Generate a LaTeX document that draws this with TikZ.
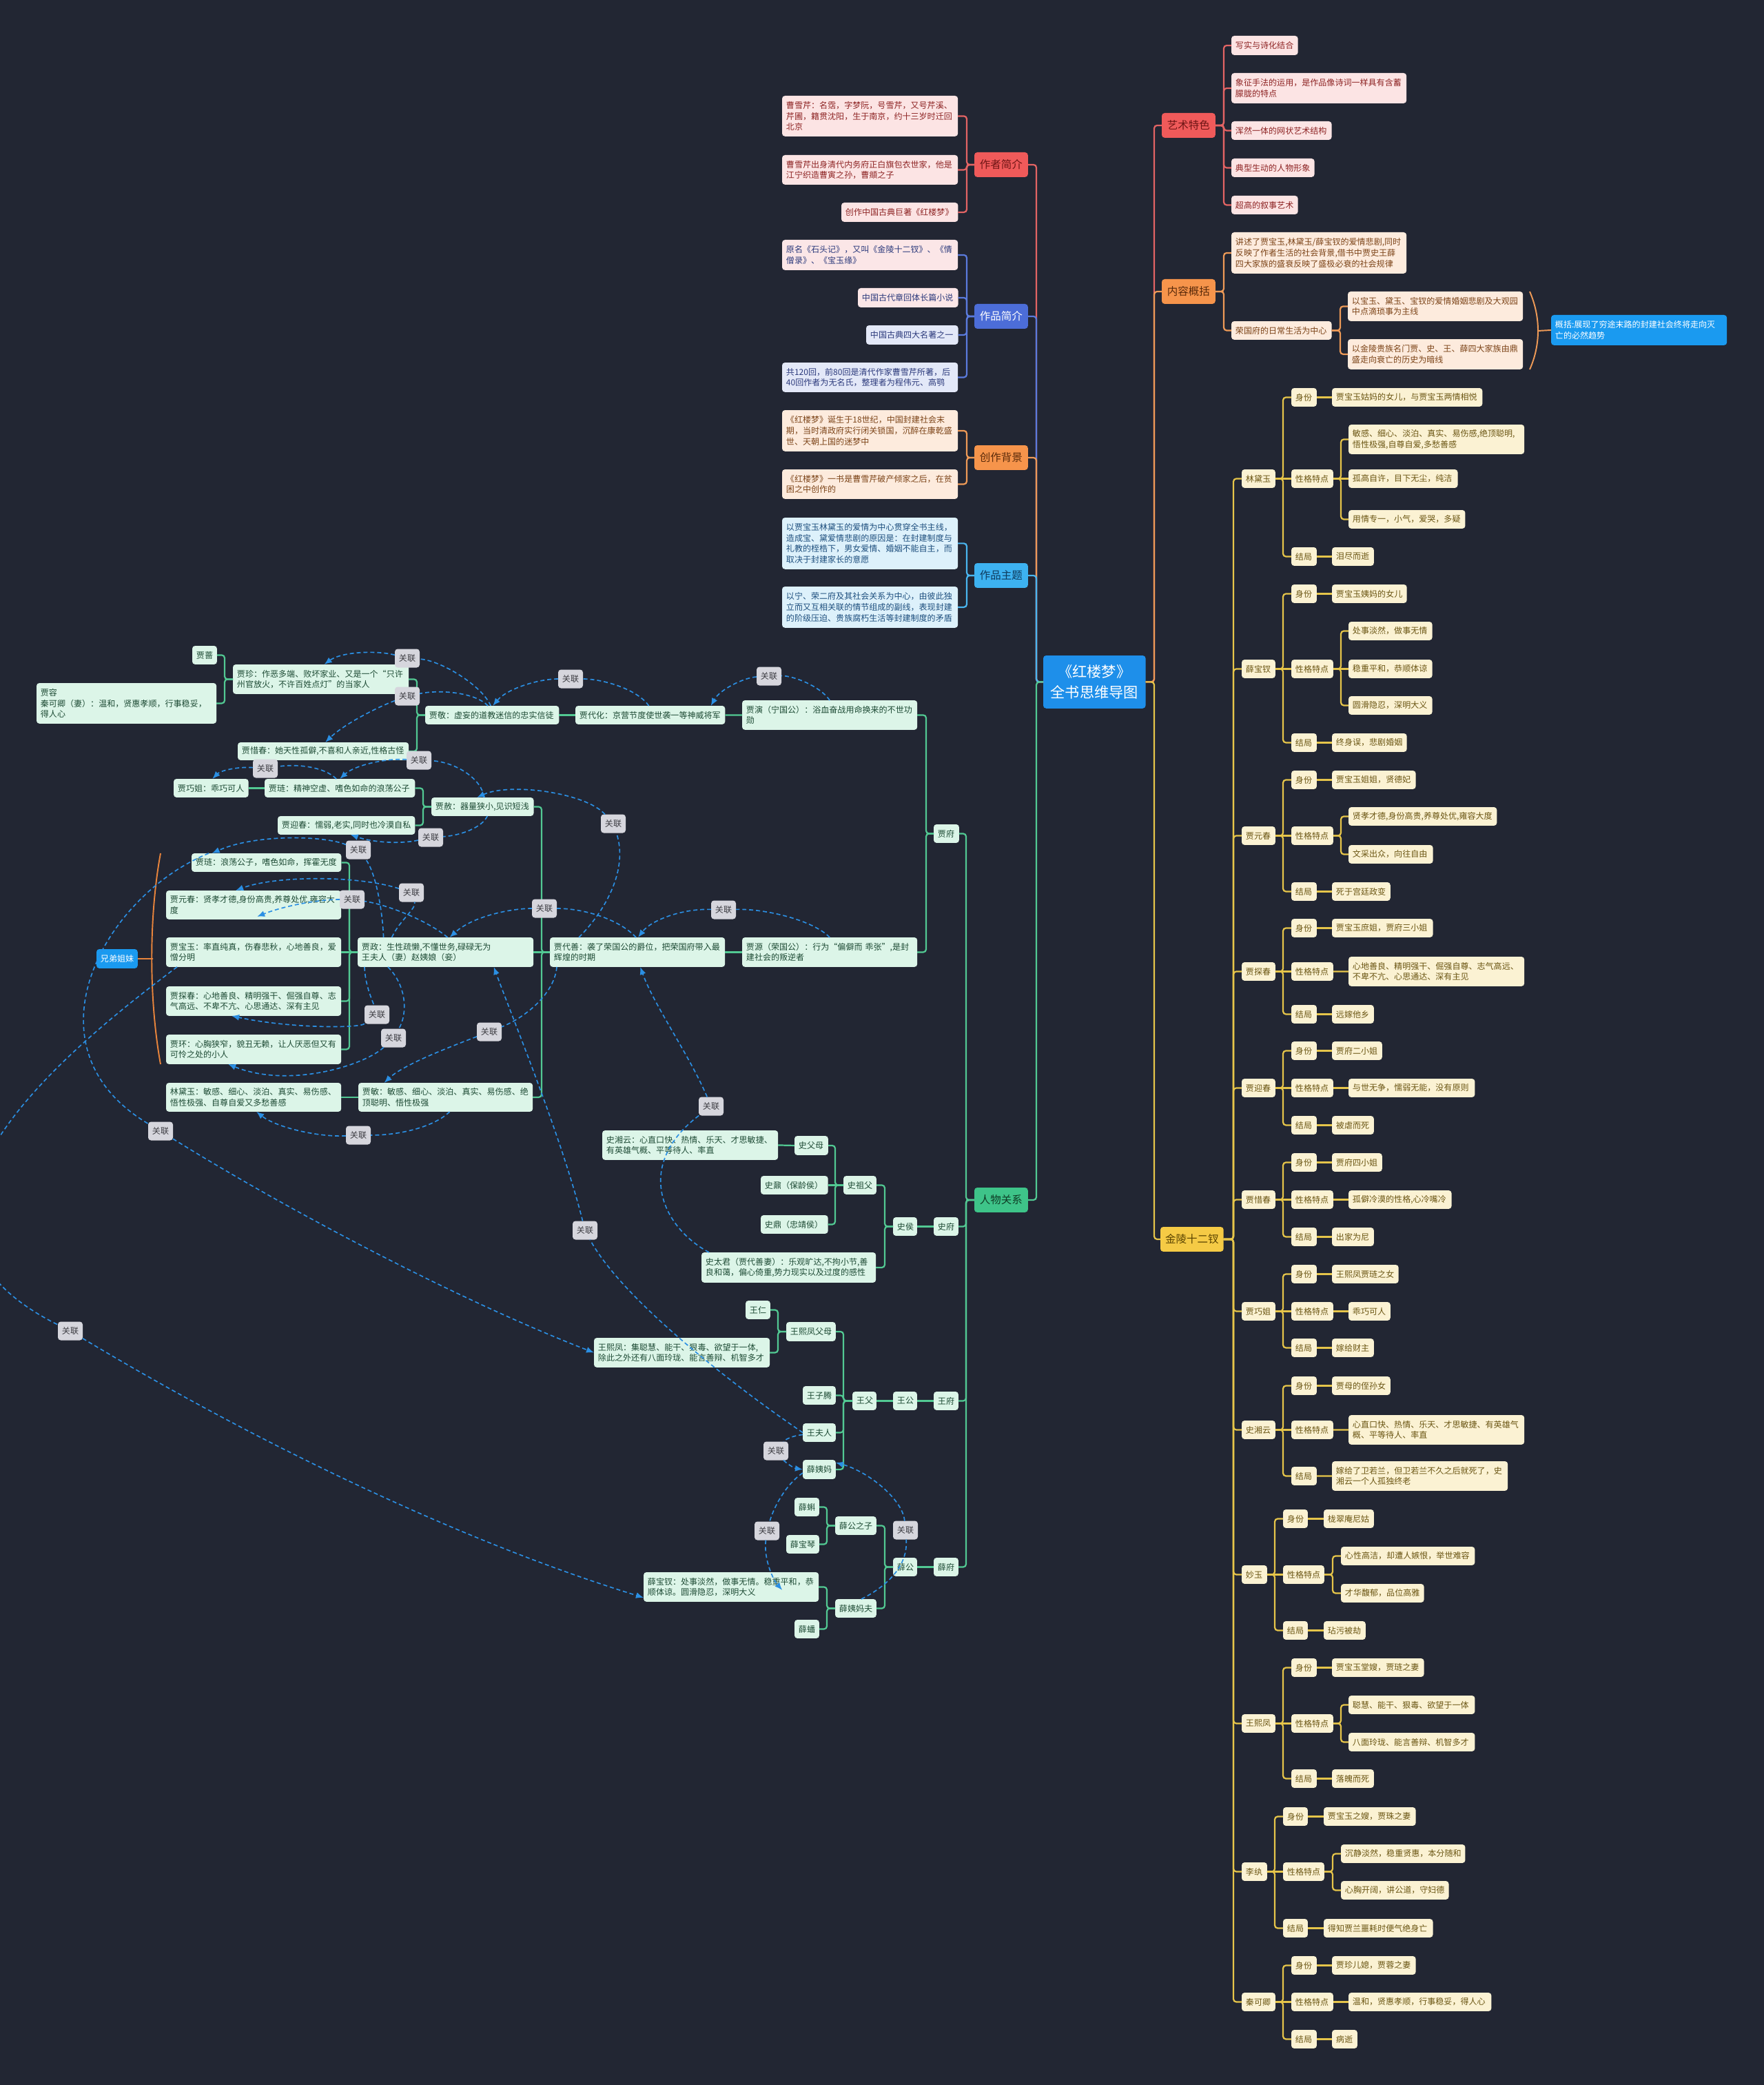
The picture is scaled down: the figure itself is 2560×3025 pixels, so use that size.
\documentclass[tikz,border=0pt]{standalone}
\usepackage{fontspec}
\setmainfont{Noto Sans CJK SC}
\usetikzlibrary{calc,arrows.meta}
\newdimen\pxu \pxu=0.72pt
\newdimen\bxpad \bxpad=4.3pt
\definecolor{bg}{HTML}{222633}
\definecolor{ctblue}{HTML}{1E8FEA}
\definecolor{mred}{HTML}{F05A5A}
\definecolor{mredt}{HTML}{6E1515}
\definecolor{lred}{HTML}{E36464}
\definecolor{fred}{HTML}{FCE4E4}
\definecolor{tred}{HTML}{8E2424}
\definecolor{mblue}{HTML}{4C6DD8}
\definecolor{lblue}{HTML}{5B7BDD}
\definecolor{fblue}{HTML}{E3E8F8}
\definecolor{fpink}{HTML}{FBE6E7}
\definecolor{tblue}{HTML}{2C3A7C}
\definecolor{morange}{HTML}{F6944B}
\definecolor{morat}{HTML}{5A2A0A}
\definecolor{lorange}{HTML}{EE9A57}
\definecolor{forange}{HTML}{FDEBDD}
\definecolor{torange}{HTML}{7C4418}
\definecolor{mcyan}{HTML}{3DB2F1}
\definecolor{mcyant}{HTML}{0E3A5C}
\definecolor{lcyan}{HTML}{4AB6F0}
\definecolor{fcyan}{HTML}{DDF1FB}
\definecolor{tcyan}{HTML}{1E4F7E}
\definecolor{mgreen}{HTML}{3EC489}
\definecolor{mgreent}{HTML}{0F3D26}
\definecolor{lgreen}{HTML}{52C993}
\definecolor{fgreen}{HTML}{DCF5E8}
\definecolor{tgreen}{HTML}{1E4B35}
\definecolor{myellow}{HTML}{F5CA45}
\definecolor{myellowt}{HTML}{5A4300}
\definecolor{lyellow}{HTML}{E6C54A}
\definecolor{fyellow}{HTML}{FBF2D3}
\definecolor{tyellow}{HTML}{6B5614}
\definecolor{relc}{HTML}{2B8FE3}
\definecolor{relf}{HTML}{D6D6DD}
\definecolor{relt}{HTML}{3A3A40}
\definecolor{bracec}{HTML}{E8843C}
\definecolor{gkblue}{HTML}{1A9AF0}

\tikzset{
 bx/.style={rounded corners=3pt, inner xsep=\bxpad, inner ysep=0pt, outer sep=0pt, align=left, font=\fontsize{8.7pt}{11.3pt}\selectfont},
 mainbx/.style={bx, align=center, font=\fontsize{11.2pt}{13pt}\selectfont},
 Lred/.style={bx, fill=fred, text=tred},
 Lpink/.style={bx, fill=fpink, text=tblue},
 Lblue/.style={bx, fill=fblue, text=tblue},
 Lor/.style={bx, fill=forange, text=torange},
 Lcy/.style={bx, fill=fcyan, text=tcyan},
 Lgr/.style={bx, fill=fgreen, text=tgreen},
 Lye/.style={bx, fill=fyellow, text=tyellow},
 Gk/.style={bx, fill=gkblue, text=white},
 Xd/.style={bx, fill=gkblue, text=white},
 Mred/.style={mainbx, fill=mred, text=mredt},
 Mblue/.style={mainbx, fill=mblue, text=white},
 Morange/.style={mainbx, fill=morange, text=morat},
 Mcyan/.style={mainbx, fill=mcyan, text=mcyant},
 Mgreen/.style={mainbx, fill=mgreen, text=mgreent},
 Myellow/.style={mainbx, fill=myellow, text=myellowt},
 Center/.style={bx, align=center, fill=ctblue, text=white, font=\fontsize{15.3pt}{21pt}\selectfont},
 tline/.style={line width=1.6pt, rounded corners=3pt},
 relline/.style={draw=relc, line width=1.2pt, dash pattern=on 4.3pt off 2.9pt},
 relarrow/.style={relline, -{Latex[length=8pt,width=6.5pt]}},
 rlab/.style={rounded corners=3pt, fill=relf, text=relt, inner xsep=\bxpad, inner ysep=0pt, outer sep=0pt, minimum height=19.5pt, font=\fontsize{8.7pt}{11.3pt}\selectfont},
}

\newcommand\mbx[7]{%
 \edef\bxw{\the\dimexpr\pxu*(#5-#3)-2\bxpad\relax}%
 \edef\bxh{\the\dimexpr\pxu*(#6-#4)\relax}%
 \node[#2,anchor=north west,text width=\bxw,minimum height=\bxh] (#1) at (#3,#4) {#7};}

\newcommand\treeR[4]{%
 \coordinate (tmpb) at (#3,0);%
 \foreach \ch in {#4}{%
   \pgfpointanchor{#2}{east}\pgfgetlastxy{\tpx}{\tpy}%
   \pgfpointanchor{\ch}{west}\pgfgetlastxy{\tcx}{\tcy}%
   \pgfmathparse{abs((\tpy)-(\tcy))<1?1:0}%
   \ifdim\pgfmathresult pt>0.5pt
     \draw[tline,#1] (#2.east) -- (\ch.west);%
   \else
     \draw[tline,#1] (#2.east) -- (#2.east -| tmpb) -- (\ch.west -| tmpb) -- (\ch.west);%
   \fi}}
\newcommand\treeL[4]{%
 \coordinate (tmpb) at (#3,0);%
 \foreach \ch in {#4}{%
   \pgfpointanchor{#2}{west}\pgfgetlastxy{\tpx}{\tpy}%
   \pgfpointanchor{\ch}{east}\pgfgetlastxy{\tcx}{\tcy}%
   \pgfmathparse{abs((\tpy)-(\tcy))<1?1:0}%
   \ifdim\pgfmathresult pt>0.5pt
     \draw[tline,#1] (#2.west) -- (\ch.east);%
   \else
     \draw[tline,#1] (#2.west) -- (#2.west -| tmpb) -- (\ch.east -| tmpb) -- (\ch.east);%
   \fi}}
\newcommand\pconn[4]{%
 \treeR{draw=lyellow}{#1}{#2}{#1a,#1b,#1c}%
 \treeR{draw=lyellow}{#1a}{#3}{#1al}%
 \treeR{draw=lyellow}{#1b}{#3}{#4}%
 \treeR{draw=lyellow}{#1c}{#3}{#1cl}}
\newcommand\relcurve[7]{%
 \draw[relline] #1 .. controls #2 and #3 .. (#4);%
 \draw[relarrow] (#4) .. controls #5 and #6 .. #7;}

\begin{document}
\begin{tikzpicture}[x=0.01in,y=-0.01in]
\useasboundingbox (0,0) rectangle (2560,3025);
\fill[bg] (0,0) rectangle (2560,3025);
\clip (0,0) rectangle (2560,3025);

% ---------- center and main branches
\mbx{ct}{Center}{1514}{951}{1663}{1028}{《红楼梦》\\全书思维导图}
\mbx{zz}{Mred}{1414}{221}{1492}{257}{作者简介}
\mbx{zp}{Mblue}{1414}{441}{1492}{477}{作品简介}
\mbx{cb}{Morange}{1414}{646}{1492}{682}{创作背景}
\mbx{zt}{Mcyan}{1414}{817}{1492}{853}{作品主题}
\mbx{rgx}{Mgreen}{1414}{1723}{1492}{1759}{人物关系}
\mbx{ys}{Mred}{1686}{164}{1764}{200}{艺术特色}
\mbx{nr}{Morange}{1686}{405}{1764}{441}{内容概括}
\mbx{jl}{Myellow}{1684}{1780}{1776}{1816}{金陵十二钗}

% ---------- left top leaves
\mbx{a1}{Lred}{1135}{139}{1391}{198}{曹雪芹：名霑，字梦阮，号雪芹，又号芹溪、\\芹圃，籍贯沈阳，生于南京，约十三岁时迁回\\北京}
\mbx{a2}{Lred}{1135}{225}{1391}{268}{曹雪芹出身清代内务府正白旗包衣世家，他是\\江宁织造曹寅之孙，曹頫之子}
\mbx{a3}{Lred}{1221}{294}{1391}{322}{创作中国古典巨著《红楼梦》}
\mbx{b1}{Lpink}{1135}{348}{1391}{392}{原名《石头记》，又叫《金陵十二钗》、《情\\僧录》、《宝玉缘》}
\mbx{b2}{Lpink}{1245}{418}{1391}{446}{中国古代章回体长篇小说}
\mbx{b3}{Lblue}{1257}{472}{1391}{500}{中国古典四大名著之一}
\mbx{b4}{Lblue}{1135}{526}{1391}{569}{共120回，前80回是清代作家曹雪芹所著，后\\40回作者为无名氏，整理者为程伟元、高鹗}
\mbx{c1}{Lor}{1135}{595}{1391}{655}{《红楼梦》诞生于18世纪，中国封建社会末\\期，当时清政府实行闭关锁国，沉醉在康乾盛\\世、天朝上国的迷梦中}
\mbx{c2}{Lor}{1135}{681}{1391}{724}{《红楼梦》一书是曹雪芹破产倾家之后，在贫\\困之中创作的}
\mbx{d1}{Lcy}{1135}{751}{1391}{826}{以贾宝玉林黛玉的爱情为中心贯穿全书主线，\\造成宝、黛爱情悲剧的原因是：在封建制度与\\礼教的桎梏下，男女爱情、婚姻不能自主，而\\取决于封建家长的意愿}
\mbx{d2}{Lcy}{1135}{851}{1391}{911}{以宁、荣二府及其社会关系为中心，由彼此独\\立而又互相关联的情节组成的副线，表现封建\\的阶级压迫、贵族腐朽生活等封建制度的矛盾}

% ---------- right top leaves
\mbx{e1}{Lred}{1787}{52}{1884}{80}{写实与诗化结合}
\mbx{e2}{Lred}{1787}{106}{2042}{150}{象征手法的运用，是作品像诗词一样具有含蓄\\朦胧的特点}
\mbx{e3}{Lred}{1787}{176}{1933}{203}{浑然一体的网状艺术结构}
\mbx{e4}{Lred}{1787}{230}{1908}{257}{典型生动的人物形象}
\mbx{e5}{Lred}{1787}{284}{1884}{311}{超高的叙事艺术}
\mbx{f1}{Lor}{1787}{337}{2042}{397}{讲述了贾宝玉,林黛玉/薛宝钗的爱情悲剧,同时\\反映了作者生活的社会背景,借书中贾史王薛\\四大家族的盛衰反映了盛极必衰的社会规律}
\mbx{f2}{Lor}{1787}{466}{1933}{493}{荣国府的日常生活为中心}
\mbx{f2a}{Lor}{1956}{423}{2211}{466}{以宝玉、黛玉、宝钗的爱情婚姻悲剧及大观园\\中点滴琐事为主线}
\mbx{f2b}{Lor}{1956}{492}{2211}{536}{以金陵贵族名门贾、史、王、薛四大家族由鼎\\盛走向衰亡的历史为暗线}
\mbx{gk}{Gk}{2251}{457}{2507}{501}{概括:展现了穷途末路的封建社会终将走向灭\\亡的必然趋势}

% ---------- Jia family
\mbx{jiafu}{Lgr}{1355}{1196}{1392}{1223}{贾府}
\mbx{jiayan}{Lgr}{1077}{1016}{1332}{1059}{贾演（宁国公）：浴血奋战用命换来的不世功\\勋}
\mbx{jiadaihua}{Lgr}{835}{1024}{1053}{1051}{贾代化：京营节度使世袭一等神威将军}
\mbx{jiajing}{Lgr}{617}{1024}{812}{1051}{贾敬：虚妄的道教迷信的忠实信徒}
\mbx{jiazhen}{Lgr}{338}{964}{594}{1007}{贾珍：作恶多端、败坏家业、又是一个“只许\\州官放火，不许百姓点灯”的当家人}
\mbx{jiaqiang}{Lgr}{279}{937}{315}{964}{贾蔷}
\mbx{jiarong}{Lgr}{53}{991}{315}{1050}{贾容\\秦可卿（妻）：温和，贤惠孝顺，行事稳妥，\\得人心}
\mbx{xichun}{Lgr}{345}{1077}{594}{1103}{贾惜春：她天性孤僻,不喜和人亲近,性格古怪}
\mbx{jiayuan}{Lgr}{1077}{1360}{1332}{1403}{贾源（荣国公）：行为“偏僻而~乖张”,是封\\建社会的叛逆者}
\mbx{daishan}{Lgr}{798}{1360}{1053}{1403}{贾代善：袭了荣国公的爵位，把荣国府带入最\\辉煌的时期}
\mbx{jiashe}{Lgr}{626}{1157}{775}{1184}{贾赦：器量狭小,见识短浅}
\mbx{jialian}{Lgr}{384}{1130}{603}{1157}{贾琏：精神空虚、嗜色如命的浪荡公子}
\mbx{qiaojie}{Lgr}{252}{1130}{361}{1157}{贾巧姐：乖巧可人}
\mbx{yingchun}{Lgr}{403}{1184}{603}{1211}{贾迎春：懦弱,老实,同时也冷漠自私}
\mbx{jiazheng}{Lgr}{519}{1360}{775}{1403}{贾政：生性疏懒,不懂世务,碌碌无为\\王夫人（妻）赵姨娘（妾）}
\mbx{jialian2}{Lgr}{278}{1238}{496}{1265}{贾琏：浪荡公子，嗜色如命，挥霍无度}
\mbx{yuanchun}{Lgr}{241}{1292}{496}{1334}{贾元春：贤孝才德,身份高贵,养尊处优,雍容大\\度}
\mbx{baoyu2}{Lgr}{241}{1360}{496}{1403}{贾宝玉：率直纯真，伤春悲秋，心地善良，爱\\憎分明}
\mbx{tanchun2}{Lgr}{241}{1431}{496}{1474}{贾探春：心地善良、精明强干、倔强自尊、志\\气高远、不卑不亢、心思通达、深有主见}
\mbx{jiahuan}{Lgr}{241}{1501}{496}{1544}{贾环：心胸狭窄，貌丑无赖，让人厌恶但又有\\可怜之处的小人}
\mbx{jiamin}{Lgr}{520}{1571}{774}{1613}{贾敏：敏感、细心、淡泊、真实、易伤感、绝\\顶聪明、悟性极强}
\mbx{lindaiyu2}{Lgr}{241}{1571}{496}{1613}{林黛玉：敏感、细心、淡泊、真实、易伤感、\\悟性极强、自尊自爱又多愁善感}
\mbx{xdjm}{Xd}{140}{1377}{200}{1405}{兄弟姐妹}

% ---------- Shi family
\mbx{shifu}{Lgr}{1355}{1766}{1391}{1793}{史府}
\mbx{shihou}{Lgr}{1296}{1766}{1331}{1793}{史侯}
\mbx{shizufu}{Lgr}{1224}{1706}{1272}{1733}{史祖父}
\mbx{shifumu}{Lgr}{1153}{1648}{1202}{1676}{史父母}
\mbx{xiangyun2}{Lgr}{874}{1640}{1130}{1683}{史湘云：心直口快、热情、乐天、才思敏捷、\\有英雄气概、平等待人、率直}
\mbx{shinai}{Lgr}{1104}{1706}{1202}{1733}{史鼐（保龄侯）}
\mbx{shiding}{Lgr}{1104}{1763}{1202}{1790}{史鼎（忠靖侯）}
\mbx{shitaijun}{Lgr}{1018}{1817}{1272}{1861}{史太君（贾代善妻）：乐观旷达,不拘小节,善\\良和蔼，偏心倚重,势力现实以及过度的感性}

% ---------- Wang family
\mbx{wangfu}{Lgr}{1355}{2019}{1391}{2046}{王府}
\mbx{wanggong}{Lgr}{1296}{2019}{1331}{2046}{王公}
\mbx{wangfq}{Lgr}{1237}{2019}{1272}{2046}{王父}
\mbx{wxfpm}{Lgr}{1141}{1918}{1213}{1946}{王熙凤父母}
\mbx{wangren}{Lgr}{1082}{1887}{1118}{1914}{王仁}
\mbx{wangxifeng}{Lgr}{862}{1941}{1118}{1984}{王熙凤：集聪慧、能干、狠毒、欲望于一体,\\除此之外还有八面玲珑、能言善辩、机智多才}
\mbx{wangziteng}{Lgr}{1165}{2011}{1213}{2038}{王子腾}
\mbx{wangfuren}{Lgr}{1165}{2065}{1213}{2092}{王夫人}
\mbx{xueyima}{Lgr}{1165}{2118}{1213}{2146}{薛姨妈}

% ---------- Xue family
\mbx{xuefu}{Lgr}{1355}{2260}{1391}{2287}{薛府}
\mbx{xuegong}{Lgr}{1296}{2260}{1331}{2287}{薛公}
\mbx{xgzz}{Lgr}{1212}{2200}{1272}{2227}{薛公之子}
\mbx{xueke}{Lgr}{1153}{2173}{1189}{2200}{薛蝌}
\mbx{baoqin}{Lgr}{1141}{2227}{1189}{2254}{薛宝琴}
\mbx{xueyimafu}{Lgr}{1212}{2320}{1272}{2347}{薛姨妈夫}
\mbx{baochai2}{Lgr}{934}{2281}{1189}{2324}{薛宝钗：处事淡然，做事无情。稳重平和，恭\\顺体谅。圆滑隐忍，深明大义}
\mbx{xuepan}{Lgr}{1153}{2350}{1189}{2377}{薛蟠}

% ---------- Jinling twelve
\mbx{p1}{Lye}{1802}{681}{1851}{708}{林黛玉}
\mbx{p1a}{Lye}{1874}{563}{1911}{590}{身份}
\mbx{p1al}{Lye}{1933}{563}{2152}{590}{贾宝玉姑妈的女儿，与贾宝玉两情相悦}
\mbx{p1b}{Lye}{1874}{681}{1935}{708}{性格特点}
\mbx{p1b1}{Lye}{1957}{616}{2213}{659}{敏感、细心、淡泊、真实、易伤感,绝顶聪明,\\悟性极强,自尊自爱,多愁善感}
\mbx{p1b2}{Lye}{1957}{681}{2116}{708}{孤高自许，目下无尘，纯洁}
\mbx{p1b3}{Lye}{1957}{740}{2127}{767}{用情专一，小气，爱哭，多疑}
\mbx{p1c}{Lye}{1874}{794}{1911}{821}{结局}
\mbx{p1cl}{Lye}{1933}{794}{1994}{821}{泪尽而逝}

\mbx{p2}{Lye}{1802}{957}{1851}{984}{薛宝钗}
\mbx{p2a}{Lye}{1874}{848}{1911}{875}{身份}
\mbx{p2al}{Lye}{1933}{848}{2042}{875}{贾宝玉姨妈的女儿}
\mbx{p2b}{Lye}{1874}{957}{1935}{984}{性格特点}
\mbx{p2b1}{Lye}{1957}{902}{2079}{929}{处事淡然，做事无情}
\mbx{p2b2}{Lye}{1957}{957}{2079}{984}{稳重平和，恭顺体谅}
\mbx{p2b3}{Lye}{1957}{1010}{2079}{1037}{圆滑隐忍，深明大义}
\mbx{p2c}{Lye}{1874}{1064}{1911}{1091}{结局}
\mbx{p2cl}{Lye}{1933}{1064}{2042}{1091}{终身误，悲剧婚姻}

\mbx{p3}{Lye}{1802}{1199}{1851}{1226}{贾元春}
\mbx{p3a}{Lye}{1874}{1118}{1911}{1145}{身份}
\mbx{p3al}{Lye}{1933}{1118}{2055}{1145}{贾宝玉姐姐，贤德妃}
\mbx{p3b}{Lye}{1874}{1199}{1935}{1226}{性格特点}
\mbx{p3b1}{Lye}{1957}{1171}{2173}{1198}{贤孝才德,身份高贵,养尊处优,雍容大度}
\mbx{p3b2}{Lye}{1957}{1226}{2080}{1253}{文采出众，向往自由}
\mbx{p3c}{Lye}{1874}{1280}{1911}{1307}{结局}
\mbx{p3cl}{Lye}{1933}{1280}{2018}{1307}{死于宫廷政变}

\mbx{p4}{Lye}{1802}{1396}{1851}{1423}{贾探春}
\mbx{p4a}{Lye}{1874}{1333}{1911}{1360}{身份}
\mbx{p4al}{Lye}{1933}{1333}{2080}{1360}{贾宝玉庶姐，贾府三小姐}
\mbx{p4b}{Lye}{1874}{1396}{1935}{1423}{性格特点}
\mbx{p4b1}{Lye}{1957}{1388}{2213}{1431}{心地善良、精明强干、倔强自尊、志气高远、\\不卑不亢、心思通达、深有主见}
\mbx{p4c}{Lye}{1874}{1458}{1911}{1485}{结局}
\mbx{p4cl}{Lye}{1933}{1458}{1994}{1485}{远嫁他乡}

\mbx{p5}{Lye}{1802}{1565}{1851}{1592}{贾迎春}
\mbx{p5a}{Lye}{1874}{1511}{1911}{1538}{身份}
\mbx{p5al}{Lye}{1933}{1511}{2006}{1538}{贾府二小姐}
\mbx{p5b}{Lye}{1874}{1565}{1935}{1592}{性格特点}
\mbx{p5b1}{Lye}{1957}{1565}{2141}{1592}{与世无争，懦弱无能，没有原则}
\mbx{p5c}{Lye}{1874}{1619}{1911}{1646}{结局}
\mbx{p5cl}{Lye}{1933}{1619}{1994}{1646}{被虐而死}

\mbx{p6}{Lye}{1802}{1727}{1851}{1754}{贾惜春}
\mbx{p6a}{Lye}{1874}{1673}{1911}{1700}{身份}
\mbx{p6al}{Lye}{1933}{1673}{2006}{1700}{贾府四小姐}
\mbx{p6b}{Lye}{1874}{1727}{1935}{1754}{性格特点}
\mbx{p6b1}{Lye}{1957}{1727}{2107}{1754}{孤僻冷漠的性格,心冷嘴冷}
\mbx{p6c}{Lye}{1874}{1781}{1911}{1808}{结局}
\mbx{p6cl}{Lye}{1933}{1781}{1994}{1808}{出家为尼}

\mbx{p7}{Lye}{1802}{1889}{1851}{1916}{贾巧姐}
\mbx{p7a}{Lye}{1874}{1835}{1911}{1862}{身份}
\mbx{p7al}{Lye}{1933}{1835}{2030}{1862}{王熙凤贾琏之女}
\mbx{p7b}{Lye}{1874}{1889}{1935}{1916}{性格特点}
\mbx{p7b1}{Lye}{1957}{1889}{2018}{1916}{乖巧可人}
\mbx{p7c}{Lye}{1874}{1942}{1911}{1969}{结局}
\mbx{p7cl}{Lye}{1933}{1942}{1994}{1969}{嫁给财主}

\mbx{p8}{Lye}{1802}{2061}{1851}{2088}{史湘云}
\mbx{p8a}{Lye}{1874}{1997}{1911}{2024}{身份}
\mbx{p8al}{Lye}{1933}{1997}{2018}{2024}{贾母的侄孙女}
\mbx{p8b}{Lye}{1874}{2061}{1935}{2088}{性格特点}
\mbx{p8b1}{Lye}{1957}{2053}{2213}{2096}{心直口快、热情、乐天、才思敏捷、有英雄气\\概、平等待人、率直}
\mbx{p8c}{Lye}{1874}{2128}{1911}{2155}{结局}
\mbx{p8cl}{Lye}{1933}{2120}{2189}{2163}{嫁给了卫若兰，但卫若兰不久之后就死了，史\\湘云一个人孤独终老}

\mbx{p9}{Lye}{1802}{2271}{1839}{2298}{妙玉}
\mbx{p9a}{Lye}{1862}{2190}{1898}{2217}{身份}
\mbx{p9al}{Lye}{1921}{2190}{1994}{2217}{栊翠庵尼姑}
\mbx{p9b}{Lye}{1862}{2271}{1922}{2298}{性格特点}
\mbx{p9b1}{Lye}{1946}{2244}{2141}{2271}{心性高洁，却遭人嫉恨，举世难容}
\mbx{p9b2}{Lye}{1946}{2298}{2067}{2325}{才华馥郁，品位高雅}
\mbx{p9c}{Lye}{1862}{2352}{1898}{2379}{结局}
\mbx{p9cl}{Lye}{1921}{2352}{1982}{2379}{玷污被劫}

\mbx{p10}{Lye}{1802}{2487}{1851}{2514}{王熙凤}
\mbx{p10a}{Lye}{1874}{2406}{1911}{2433}{身份}
\mbx{p10al}{Lye}{1933}{2406}{2067}{2433}{贾宝玉堂嫂，贾琏之妻}
\mbx{p10b}{Lye}{1874}{2487}{1935}{2514}{性格特点}
\mbx{p10b1}{Lye}{1957}{2460}{2141}{2487}{聪慧、能干、狠毒、欲望于一体}
\mbx{p10b2}{Lye}{1957}{2514}{2141}{2541}{八面玲珑、能言善辩、机智多才}
\mbx{p10c}{Lye}{1874}{2567}{1911}{2594}{结局}
\mbx{p10cl}{Lye}{1933}{2567}{1994}{2594}{落魄而死}

\mbx{p11}{Lye}{1802}{2702}{1839}{2729}{李纨}
\mbx{p11a}{Lye}{1862}{2622}{1898}{2649}{身份}
\mbx{p11al}{Lye}{1921}{2622}{2055}{2649}{贾宝玉之嫂，贾珠之妻}
\mbx{p11b}{Lye}{1862}{2702}{1922}{2729}{性格特点}
\mbx{p11b1}{Lye}{1946}{2676}{2127}{2703}{沉静淡然，稳重贤惠，本分随和}
\mbx{p11b2}{Lye}{1946}{2729}{2103}{2756}{心胸开阔，讲公道，守妇德}
\mbx{p11c}{Lye}{1862}{2784}{1898}{2811}{结局}
\mbx{p11cl}{Lye}{1921}{2784}{2080}{2811}{得知贾兰噩耗时便气绝身亡}

\mbx{p12}{Lye}{1802}{2891}{1851}{2918}{秦可卿}
\mbx{p12a}{Lye}{1874}{2838}{1911}{2865}{身份}
\mbx{p12al}{Lye}{1933}{2838}{2055}{2865}{贾珍儿媳，贾蓉之妻}
\mbx{p12b}{Lye}{1874}{2891}{1935}{2918}{性格特点}
\mbx{p12b1}{Lye}{1957}{2891}{2165}{2918}{温和，贤惠孝顺，行事稳妥，得人心}
\mbx{p12c}{Lye}{1874}{2945}{1911}{2972}{结局}
\mbx{p12cl}{Lye}{1933}{2945}{1970}{2972}{病逝}

% ---------- tree connectors
\treeL{draw=lred}{ct}{1504}{zz}
\treeL{draw=lblue}{ct}{1504}{zp}
\treeL{draw=lorange}{ct}{1504}{cb}
\treeL{draw=lcyan}{ct}{1504}{zt}
\treeL{draw=lgreen}{ct}{1504}{rgx}
\treeR{draw=lred}{ct}{1675}{ys}
\treeR{draw=lorange}{ct}{1675}{nr}
\treeR{draw=lyellow}{ct}{1675}{jl}

\treeL{draw=lred}{zz}{1403}{a1,a2,a3}
\treeL{draw=lblue}{zp}{1403}{b1,b2,b3,b4}
\treeL{draw=lorange}{cb}{1403}{c1,c2}
\treeL{draw=lcyan}{zt}{1403}{d1,d2}
\treeR{draw=lred}{ys}{1776}{e1,e2,e3,e4,e5}
\treeR{draw=lorange}{nr}{1776}{f1,f2}
\treeR{draw=lorange}{f2}{1945}{f2a,f2b}

\treeL{draw=lgreen}{rgx}{1402}{jiafu,shifu,wangfu,xuefu}
\treeL{draw=lgreen}{jiafu}{1344}{jiayan,jiayuan}
\treeL{draw=lgreen}{jiayan}{1065}{jiadaihua}
\treeL{draw=lgreen}{jiadaihua}{824}{jiajing}
\treeL{draw=lgreen}{jiajing}{605}{jiazhen,xichun}
\treeL{draw=lgreen}{jiazhen}{326}{jiaqiang,jiarong}
\treeL{draw=lgreen}{jiayuan}{1065}{daishan}
\treeL{draw=lgreen}{daishan}{786}{jiashe,jiazheng,jiamin}
\treeL{draw=lgreen}{jiashe}{614}{jialian,yingchun}
\treeL{draw=lgreen}{jialian}{372}{qiaojie}
\treeL{draw=lgreen}{jiazheng}{507}{jialian2,yuanchun,baoyu2,tanchun2,jiahuan}
\treeL{draw=lgreen}{jiamin}{508}{lindaiyu2}
\treeL{draw=lgreen}{shifu}{1343}{shihou}
\treeL{draw=lgreen}{shihou}{1284}{shizufu,shitaijun}
\treeL{draw=lgreen}{shizufu}{1212}{shifumu,shinai,shiding}
\treeL{draw=lgreen}{shifumu}{1141}{xiangyun2}
\treeL{draw=lgreen}{wangfu}{1343}{wanggong}
\treeL{draw=lgreen}{wanggong}{1284}{wangfq}
\treeL{draw=lgreen}{wangfq}{1224}{wxfpm,wangziteng,wangfuren,xueyima}
\treeL{draw=lgreen}{wxfpm}{1129}{wangren,wangxifeng}
\treeL{draw=lgreen}{xuefu}{1343}{xuegong}
\treeL{draw=lgreen}{xuegong}{1284}{xgzz,xueyimafu}
\treeL{draw=lgreen}{xgzz}{1200}{xueke,baoqin}
\treeL{draw=lgreen}{xueyimafu}{1200}{baochai2,xuepan}

\treeR{draw=lyellow}{jl}{1790}{p1,p2,p3,p4,p5,p6,p7,p8,p9,p10,p11,p12}
\pconn{p1}{1862}{1946}{p1b1,p1b2,p1b3}
\pconn{p2}{1862}{1946}{p2b1,p2b2,p2b3}
\pconn{p3}{1862}{1946}{p3b1,p3b2}
\pconn{p4}{1862}{1946}{p4b1}
\pconn{p5}{1862}{1946}{p5b1}
\pconn{p6}{1862}{1946}{p6b1}
\pconn{p7}{1862}{1946}{p7b1}
\pconn{p8}{1862}{1946}{p8b1}
\pconn{p9}{1850}{1934}{p9b1,p9b2}
\pconn{p10}{1862}{1946}{p10b1,p10b2}
\pconn{p11}{1850}{1934}{p11b1,p11b2}
\pconn{p12}{1862}{1946}{p12b1}

% ---------- braces
\draw[draw=bracec, line width=1.4pt] (233,1238) .. controls (216,1330) and (216,1450) .. (233,1544);
\draw[draw=bracec, line width=1.4pt] (xdjm.east) -- (222,1391);
\draw[draw=lorange, line width=1.4pt] (2220,423) .. controls (2236,460) and (2236,500) .. (2220,536);
\draw[draw=lorange, line width=1.4pt] (2232,480) -- (gk.west);

% ---------- relation labels
\node[rlab] (la) at (591,955) {关联};
\node[rlab] (lb) at (828,985) {关联};
\node[rlab] (lc) at (1116,981) {关联};
\node[rlab] (ld) at (591,1010) {关联};
\node[rlab] (le) at (608,1103) {关联};
\node[rlab] (lf) at (385,1115) {关联};
\node[rlab] (lg) at (890,1195) {关联};
\node[rlab] (lh) at (625,1215) {关联};
\node[rlab] (li) at (520,1233) {关联};
\node[rlab] (lj) at (597,1295) {关联};
\node[rlab] (lk) at (511,1305) {关联};
\node[rlab] (ll) at (790,1318) {关联};
\node[rlab] (lm) at (1050,1320) {关联};
\node[rlab] (ln) at (710,1497) {关联};
\node[rlab] (lo) at (520,1647) {关联};
\node[rlab] (lt) at (547,1472) {关联};
\node[rlab] (lu) at (571,1506) {关联};
\node[rlab] (lp) at (233,1641) {关联};
\node[rlab] (lq) at (102,1931) {关联};
\node[rlab] (lr) at (849,1785) {关联};
\node[rlab] (ls) at (1032,1605) {关联};
\node[rlab] (lv) at (1126,2105) {关联};
\node[rlab] (lw) at (1113,2221) {关联};
\node[rlab] (lx) at (1314,2220) {关联};

% ---------- relation curves
\relcurve{($(jiajing.north)+(-2,0)$)}{(700,995)}{(640,958)}{la}{(545,943)}{(495,946)}{($(jiazhen.north)+(5,0)$)}
\relcurve{($(jiadaihua.north)+(-2,0)$)}{(925,1000)}{(875,985)}{lb}{(780,985)}{(735,1000)}{($(jiajing.north)+(1,0)$)}
\relcurve{(jiayan.north)}{(1190,995)}{(1150,980)}{lc}{(1080,983)}{(1045,1000)}{($(jiadaihua.north)+(88,0)$)}
\relcurve{($(jiajing.north)+(-6,0)$)}{(690,1005)}{(640,1000)}{ld}{(550,1025)}{(500,1050)}{($(xichun.north)+(3,0)$)}
\relcurve{($(jiashe.north)+(2,0)$)}{(700,1130)}{(660,1105)}{le}{(560,1100)}{(515,1110)}{(jialian.north)}
\relcurve{($(jialian.north)+(-5,0)$)}{(470,1112)}{(430,1108)}{lf}{(345,1112)}{(320,1118)}{($(qiaojie.north)+(2,0)$)}
\relcurve{($(daishan.north)+(-85,0)$)}{(880,1320)}{(912,1260)}{lg}{(850,1150)}{(740,1135)}{($(jiashe.north)+(-8,0)$)}
\relcurve{($(jiashe.south)+(7,0)$)}{(700,1200)}{(670,1212)}{lh}{(580,1225)}{(540,1222)}{($(yingchun.south)+(6,0)$)}
\relcurve{($(jiazheng.north)+(-90,0)$)}{(555,1320)}{(545,1265)}{li}{(470,1212)}{(370,1210)}{($(jialian2.north)+(-79,0)$)}
\relcurve{($(jiazheng.north)+(-78,0)$)}{(580,1335)}{(605,1318)}{lj}{(520,1270)}{(400,1270)}{($(yuanchun.north)+(-26,0)$)}
\relcurve{($(jiazheng.north)+(3,0)$)}{(620,1335)}{(560,1312)}{lk}{(460,1305)}{(410,1315)}{($(yuanchun.south)+(5,-4)$)}
\relcurve{($(daishan.north)+(-2,0)$)}{(900,1335)}{(850,1318)}{ll}{(740,1318)}{(685,1330)}{($(jiazheng.north)+(6,0)$)}
\relcurve{(jiayuan.north)}{(1180,1335)}{(1110,1318)}{lm}{(990,1318)}{(945,1335)}{($(daishan.north)+(1,0)$)}
\relcurve{($(daishan.south west)+(10,0)$)}{(805,1440)}{(765,1475)}{ln}{(650,1520)}{(585,1545)}{($(jiamin.north)+(-89,0)$)}
\relcurve{($(jiamin.south)+(6,0)$)}{(630,1635)}{(580,1647)}{lo}{(460,1650)}{(400,1635)}{($(lindaiyu2.south)+(4,0)$)}
\relcurve{($(jiazheng.south west)+(10,0)$)}{(530,1430)}{(540,1450)}{lt}{(520,1492)}{(420,1492)}{($(tanchun2.south)+(-32,0)$)}
\relcurve{($(jiazheng.south west)+(44,0)$)}{(590,1430)}{(592,1470)}{lu}{(530,1545)}{(420,1580)}{($(jiahuan.south)+(-37,0)$)}
\relcurve{($(jialian2.north west)+(25,0)$)}{(150,1300)}{(30,1520)}{lp}{(400,1745)}{(650,1880)}{(wangxifeng.west)}
\relcurve{($(baoyu2.south west)+(16,0)$)}{(60,1550)}{(-200,1780)}{lq}{(350,2080)}{(650,2230)}{($(baochai2.south west)+(0,-6)$)}
\relcurve{(wangfuren.west)}{(1050,2000)}{(900,1880)}{lr}{(815,1650)}{(745,1480)}{($(jiazheng.south)+(70,0)$)}
\relcurve{($(shitaijun.north west)+(11,0)$)}{(960,1780)}{(920,1690)}{ls}{(1000,1530)}{(950,1460)}{($(daishan.south)+(4,0)$)}
\relcurve{($(wangfuren.west)+(0,3)$)}{(1150,2083)}{(1140,2088)}{lv}{(1140,2122)}{(1152,2130)}{(xueyima.west)}
\relcurve{($(xueyima.west)+(0,5)$)}{(1145,2150)}{(1125,2180)}{lw}{(1108,2262)}{(1122,2292)}{($(baochai2.north east)+(-53,26)$)}
\relcurve{($(xueyimafu.north)+(8,0)$)}{(1290,2300)}{(1318,2270)}{lx}{(1310,2175)}{(1260,2135)}{($(xueyima.east)+(0,-10)$)}
\end{tikzpicture}
\end{document}
